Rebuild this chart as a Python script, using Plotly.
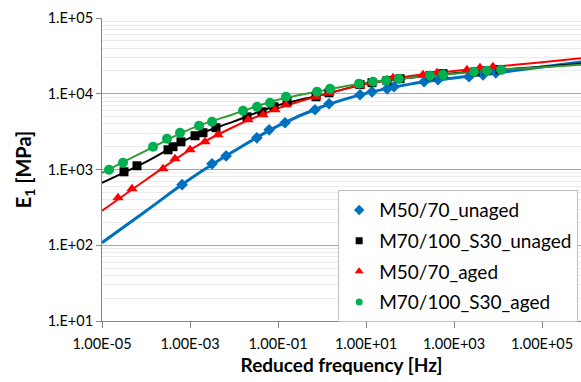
import plotly.graph_objects as go

# ---- measured points ----
f_m50_unaged = [10**-3.18, 10**-2.5, 10**-2.18, 10**-1.48, 10**-1.2, 10**-0.84, 10**-0.16, 10**0.16,
                10**0.864, 10**1.136, 10**1.48, 10**1.636, 10**2.32, 10**2.636, 10**3.34, 10**3.66, 10**3.95]
E_m50_unaged = [630, 1190, 1510, 2620, 3340, 4140, 6150, 7380, 9700, 10600, 11600, 12400, 14400, 15300,
                16800, 17800, 18900]

f_m70_unaged = [10**-4.5, 10**-4.205, 10**-3.5, 10**-3.386, 10**-3.205, 10**-2.886, 10**-2.705, 10**-2.41,
                10**-1.705, 10**-1.364, 10**-1.09, 10**-0.795, 10**-0.136, 10**0.159, 10**0.864, 10**1.136,
                10**1.477, 10**1.773, 10**2.455, 10**2.75, 10**3.477, 10**3.75, 10**4.045]
E_m70_unaged = [933, 1120, 1820, 2000, 2320, 2790, 3060, 3560, 4960, 5780, 6730, 7830, 9120, 10300,
                13200, 14000, 14900, 15800, 17300, 18400, 19500, 20100, 20800]

f_m50_aged = [10**-4.636, 10**-4.318, 10**-3.614, 10**-3.341, 10**-3.0, 10**-2.66, 10**-2.364, 10**-1.682,
              10**-1.341, 10**-1.068, 10**-0.818, 10**-0.136, 10**0.159, 10**0.864, 10**1.136, 10**1.477,
              10**1.614, 10**2.295, 10**2.614, 10**3.295, 10**3.59, 10**3.886]
E_m50_aged = [424, 557, 1020, 1390, 1820, 2320, 2880, 4540, 5290, 6150, 7160, 9120, 10300, 12800, 14000,
              15300, 16300, 17800, 18900, 20700, 22000, 22700]

f_m70_aged = [10**-4.84, 10**-4.523, 10**-3.84, 10**-3.523, 10**-3.227, 10**-2.795, 10**-2.5, 10**-1.795,
              10**-1.477, 10**-1.182, 10**-0.818, 10**-0.114, 10**0.182, 10**0.841, 10**1.159, 10**1.455,
              10**1.75, 10**2.455, 10**2.75, 10**3.455, 10**3.75, 10**4.068]
E_m70_aged = [993, 1230, 2000, 2550, 3060, 3780, 4270, 5970, 6730, 7600, 9120, 10600, 11600, 13600, 14400,
              14900, 15800, 17300, 17800, 19500, 20100, 20800]

# ---- fitted master curves ----
f_curve = [1e-5, 1e-4, 1e-3, 1e-2, 1e-1, 1e0, 1e1, 1e2, 1e3, 1e4, 1e5, 10**5.886]
E_curve_m50_unaged = [108, 284, 747, 1750, 3770, 6740, 10100, 13400, 16100, 19000, 22500, 26200]
E_curve_m70_unaged = [668, 1260, 2610, 4320, 7050, 9660, 13500, 16300, 18700, 20700, 22700, 24900]
E_curve_m50_aged = [285, 733, 1820, 3670, 6410, 9640, 13400, 17100, 20000, 22900, 26000, 29400]
E_curve_m70_aged = [906, 1780, 3420, 5410, 8320, 11000, 14000, 16300, 18400, 20700, 22400, 24200]

x_tickvals = [1e-5, 1e-3, 1e-1, 1e1, 1e3, 1e5]
x_ticktext = ["1.00E-05", "1.00E-03", "1.00E-01", "1.00E+01", "1.00E+03", "1.00E+05"]
y_tickvals = [1e1, 1e2, 1e3, 1e4, 1e5]
y_ticktext = ["1.E+01", "1.E+02", "1.E+03", "1.E+04", "1.E+05"]

series = [
    ("M50/70_unaged", f_m50_unaged, E_m50_unaged, E_curve_m50_unaged, "#0070C0", "#0070C0", "diamond", 9, 3, 8),
    ("M70/100_S30_unaged", f_m70_unaged, E_m70_unaged, E_curve_m70_unaged, "#000000", "#000000", "square", 9, 2, 7),
    ("M50/70_aged", f_m50_aged, E_m50_aged, E_curve_m50_aged, "#FF0000", "#FF0000", "triangle-up", 10, 2, 8),
    ("M70/100_S30_aged", f_m70_aged, E_m70_aged, E_curve_m70_aged, "#00B050", "#339933", "circle", 10, 2, 7),
]

FONT = "Lato, Open Sans, sans-serif"
fig = go.Figure()
for name, fx, ey, ec, mcol, lcol, sym, msize, lw, lsize in series:
    fig.add_trace(go.Scatter(x=f_curve, y=ec, mode="lines", line=dict(color=lcol, width=lw, shape="spline"),
                             showlegend=False, hoverinfo="skip"))
for name, fx, ey, ec, mcol, lcol, sym, msize, lw, lsize in series:
    fig.add_trace(go.Scatter(x=fx, y=ey, mode="markers", name=name, showlegend=False,
                             marker=dict(symbol=sym, size=msize, color=mcol, line=dict(width=0))))
# legend entries (small markers, as in the reference legend)
for name, fx, ey, ec, mcol, lcol, sym, msize, lw, lsize in series:
    fig.add_trace(go.Scatter(x=[None], y=[None], mode="markers", name=name, legendgroup=name,
                             marker=dict(symbol=sym, size=lsize, color=mcol, line=dict(width=0))))

fig.update_layout(
    width=581, height=382,
    margin=dict(l=102, r=0, t=18, b=61),
    paper_bgcolor="white", plot_bgcolor="white",
    font=dict(family=FONT, size=14, color="#000000"),
    showlegend=True,
    legend=dict(x=0.493, y=0.432, xanchor="left", yanchor="top",
                bgcolor="white", bordercolor="#BFBFBF", borderwidth=1,
                font=dict(family=FONT, size=19), tracegroupgap=3),
)
fig.update_xaxes(type="log", range=[-5, 5.886], showgrid=False, zeroline=False,
                 tickvals=x_tickvals, ticktext=x_ticktext, ticks="outside", ticklen=6,
                 tickcolor="#868686", showline=True, linecolor="#868686", linewidth=1,
                 tickfont=dict(size=14.5), ticklabelstandoff=4,
                 title=dict(text="<b>Reduced frequency [Hz]</b>", font=dict(size=19), standoff=7))
fig.update_yaxes(type="log", range=[1, 5], zeroline=False,
                 tickvals=y_tickvals, ticktext=y_ticktext, ticks="outside", ticklen=5,
                 tickcolor="#868686", showline=True, linecolor="#868686", linewidth=1,
                 showgrid=True, gridcolor="#A6A6A6", gridwidth=1,
                 minor=dict(showgrid=True, gridcolor="#EBEBEB", dtick="D1", ticks=""),
                 tickfont=dict(size=14.5),
                 title=dict(text="<b>E<sub>1</sub> [MPa]</b>", font=dict(size=20), standoff=10))

fig.write_html("out.html")
